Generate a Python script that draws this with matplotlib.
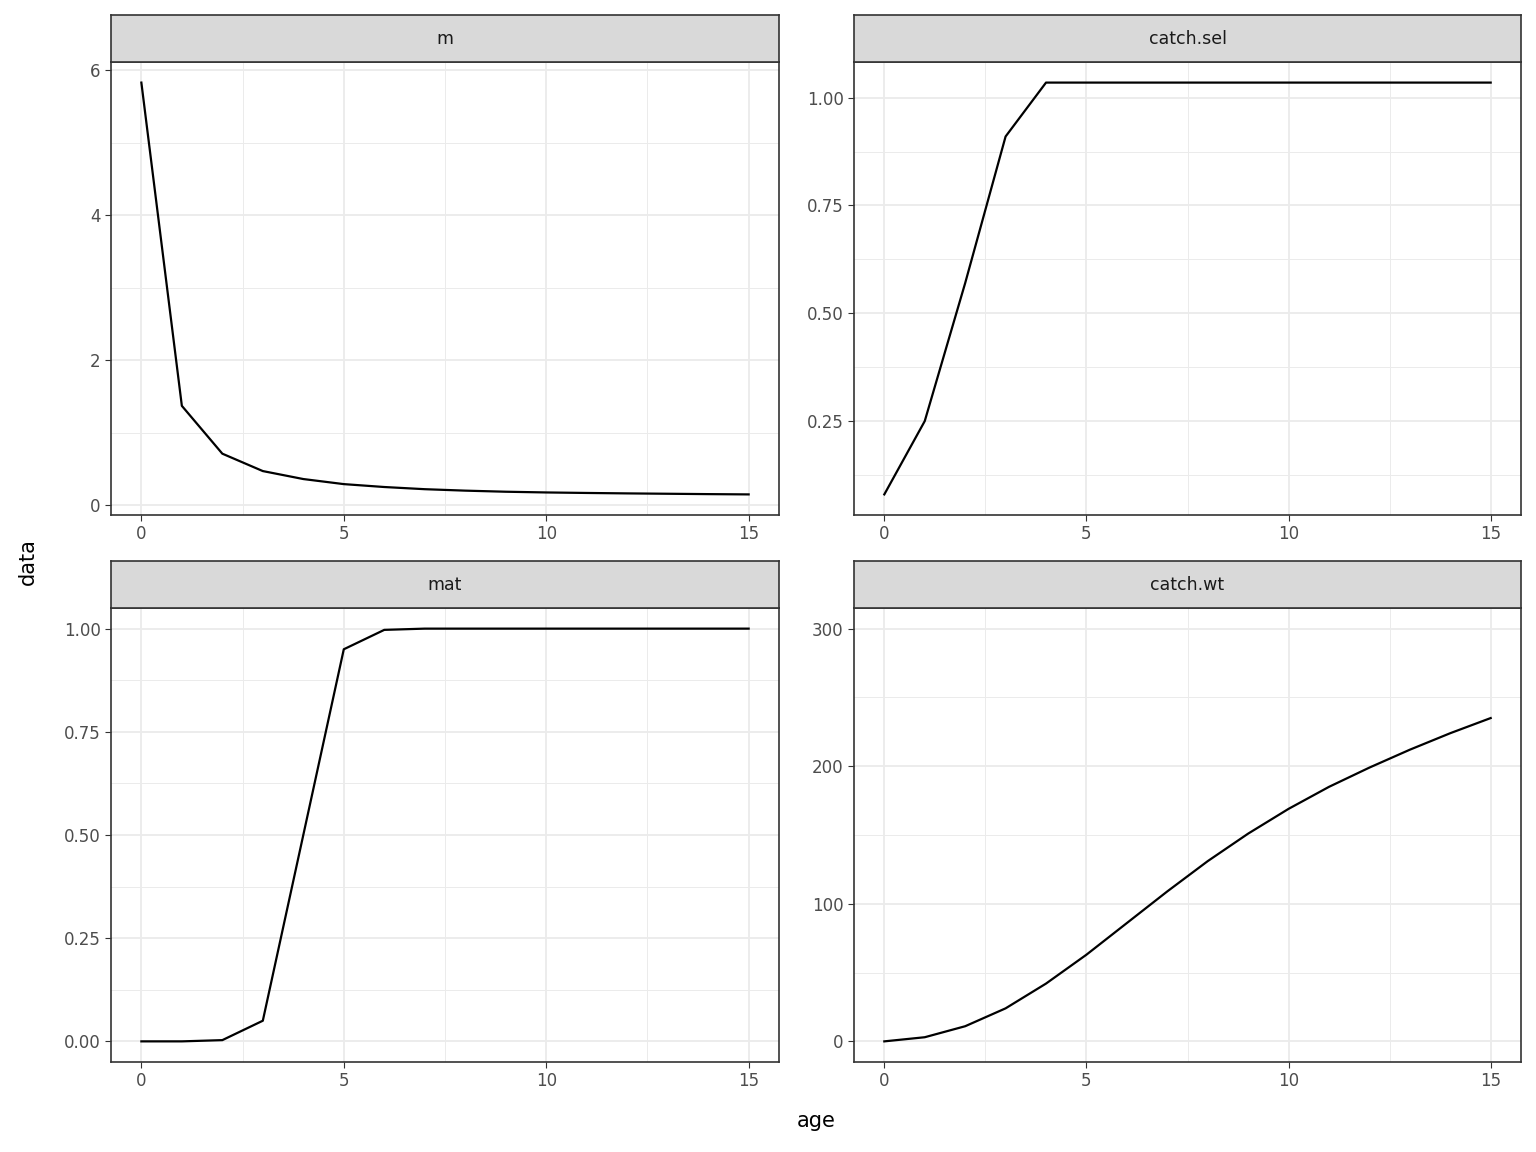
import matplotlib
matplotlib.use("Agg")
import matplotlib.pyplot as plt
import numpy as np
from matplotlib.ticker import MultipleLocator, FixedLocator, FormatStrFormatter

age = list(range(16))
m = [5.83, 1.37, 0.71, 0.47, 0.36, 0.29, 0.25, 0.22, 0.20, 0.185, 0.175, 0.168, 0.162, 0.157, 0.152, 0.148]
catch_sel = [0.08, 0.25, 0.57, 0.91] + [1.035] * 12
mat = [0.0, 0.0, 0.003, 0.05, 0.5, 0.95, 0.997, 1.0, 1.0, 1.0, 1.0, 1.0, 1.0, 1.0, 1.0, 1.0]
catch_wt = [0, 3, 11, 24, 42, 63, 86, 109, 131, 151, 169, 185, 199, 212, 224, 235]

W, H = 1536, 1152
fig = plt.figure(figsize=(15.36, 11.52), dpi=100)

def pax(x0, y0, x1, y1):
    return fig.add_axes([x0 / W, 1 - y1 / H, (x1 - x0) / W, (y1 - y0) / H])

panels = [
    ("m", m, (111, 62, 779, 515), [0, 2, 4, 6], "%d", None),
    ("catch.sel", catch_sel, (854, 62, 1521, 515), [0.25, 0.5, 0.75, 1.0], "%.2f", None),
    ("mat", mat, (111, 608, 779, 1062), [0, 0.25, 0.5, 0.75, 1.0], "%.2f", None),
    ("catch.wt", catch_wt, (854, 608, 1521, 1062), [0, 100, 200, 300], "%d", (-15, 315)),
]

for name, vals, (x0, y0, x1, y1), yt, fmt, ylim in panels:
    ax = pax(x0, y0, x1, y1)
    ax.plot(age, vals, color="black", lw=1.6)
    ax.set_xlim(-0.75, 15.75)
    if ylim:
        ax.set_ylim(*ylim)
    else:
        lo, hi = min(vals), max(vals)
        r = hi - lo
        ax.set_ylim(lo - 0.05 * r, hi + 0.05 * r)
    ax.xaxis.set_major_locator(FixedLocator([0, 5, 10, 15]))
    ax.xaxis.set_minor_locator(FixedLocator([2.5, 7.5, 12.5]))
    ax.yaxis.set_major_locator(FixedLocator(yt))
    step = yt[1] - yt[0]
    ax.yaxis.set_minor_locator(FixedLocator([v + step / 2 for v in [yt[0] - step] + yt]))
    ax.yaxis.set_major_formatter(FormatStrFormatter(fmt))
    ax.grid(which="major", color="#EBEBEB", lw=1.3)
    ax.grid(which="minor", color="#EBEBEB", lw=0.7)
    ax.set_axisbelow(True)
    ax.tick_params(which="major", length=4, color="#333333", labelcolor="#4D4D4D", labelsize=12)
    ax.tick_params(which="minor", length=0)
    for s in ax.spines.values():
        s.set_color("#333333"); s.set_linewidth(1.2)
    sax = pax(x0, y0 - 47, x1, y0)
    sax.set_facecolor("#D9D9D9")
    sax.set_xticks([]); sax.set_yticks([])
    for s in sax.spines.values():
        s.set_color("#333333"); s.set_linewidth(1.2)
    sax.text(0.5, 0.5, name, ha="center", va="center", fontsize=12.5, color="#1A1A1A", transform=sax.transAxes)

fig.text(816 / W, 1 - 1121 / H, "age", ha="center", va="center", fontsize=15)
fig.text(28 / W, 1 - 562 / H, "data", ha="center", va="center", fontsize=15, rotation=90)
fig.savefig("out.png", dpi=100, facecolor="white")
